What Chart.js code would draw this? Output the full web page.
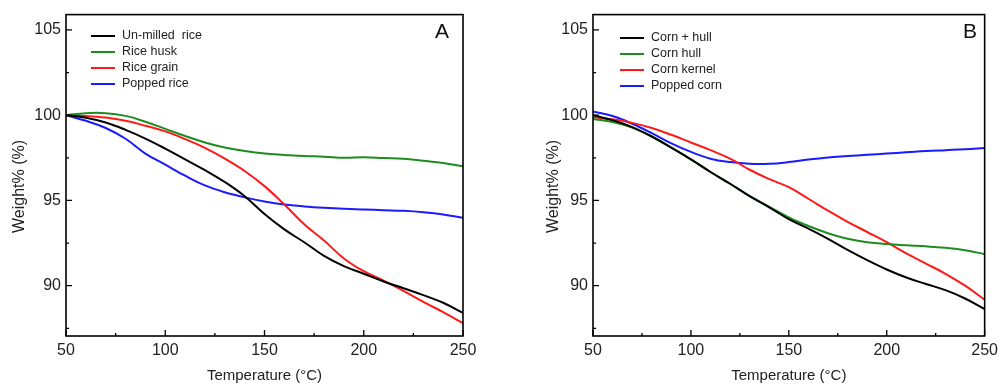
<!DOCTYPE html>
<html>
<head>
    <meta charset="UTF-8">
    <title>TGA curves</title>
    <style>
        body {
            margin: 0;
            padding: 0;
            background: #fff;
            width: 1003px;
            height: 385px;
            position: relative;
            overflow: hidden;
        }
        .panel {
            position: absolute;
            top: 0;
            height: 385px;
        }
        #panelA { left: 0; width: 490px; }
        #panelB { left: 520px; width: 483px; }
    </style>
</head>
<body>
    <div class="panel" id="panelA"><canvas id="chartA"></canvas></div>
    <div class="panel" id="panelB"><canvas id="chartB"></canvas></div>

    <script src="https://cdn.jsdelivr.net/npm/chart.js"></script>
    <script>
        // temperatures (°C) the curves were read at
        const temps = [50, 60, 70, 80, 90, 100, 110, 120, 130, 140, 150, 160, 170, 180, 190, 200, 210, 220, 230, 240, 250];

        // panel A - rice
        const unmilledRice = [100, 99.85, 99.57, 99.14, 98.63, 98.04, 97.41, 96.78, 96.08, 95.25, 94.2, 93.3, 92.55, 91.75, 91.15, 90.7, 90.25, 89.85, 89.45, 89.0, 88.4];
        const riceHusk = [100, 100.12, 100.12, 99.96, 99.62, 99.2, 98.78, 98.4, 98.1, 97.9, 97.75, 97.67, 97.6, 97.57, 97.5, 97.53, 97.49, 97.45, 97.33, 97.2, 97.0];
        const riceGrain = [100, 99.96, 99.86, 99.67, 99.38, 99.05, 98.6, 98.08, 97.45, 96.73, 95.84, 94.76, 93.6, 92.65, 91.6, 90.85, 90.3, 89.7, 89.05, 88.45, 87.8];
        const poppedRice = [100, 99.67, 99.25, 98.62, 97.75, 97.1, 96.45, 95.88, 95.48, 95.18, 94.94, 94.76, 94.65, 94.57, 94.51, 94.47, 94.43, 94.39, 94.31, 94.18, 93.98];

        // panel B - corn
        const cornHull = [100, 99.7, 99.3, 98.75, 98.1, 97.41, 96.67, 95.98, 95.25, 94.6, 93.9, 93.35, 92.75, 92.1, 91.5, 90.95, 90.48, 90.1, 89.74, 89.25, 88.63];
        const cornHullOnly = [99.78, 99.6, 99.27, 98.75, 98.1, 97.41, 96.67, 95.98, 95.25, 94.63, 94.0, 93.5, 93.08, 92.75, 92.55, 92.44, 92.37, 92.31, 92.22, 92.08, 91.85];
        const cornKernel = [99.88, 99.76, 99.55, 99.25, 98.85, 98.4, 97.95, 97.45, 96.8, 96.25, 95.78, 95.1, 94.4, 93.75, 93.15, 92.55, 91.9, 91.3, 90.7, 90.0, 89.18];
        const poppedCorn = [100.22, 99.95, 99.5, 98.95, 98.35, 97.85, 97.45, 97.25, 97.15, 97.15, 97.25, 97.4, 97.52, 97.6, 97.68, 97.75, 97.82, 97.9, 97.95, 98.0, 98.08];

        const labelsA = ['Un-milled  rice', 'Rice husk', 'Rice grain', 'Popped rice'];
        const labelsB = ['Corn + hull', 'Corn hull', 'Corn kernel', 'Popped corn'];
        const colors = ['#000000', '#1e8c1e', '#ff1a1a', '#1a1aff'];

        const xMajor = [50, 100, 150, 200, 250];
        const xMinor = [75, 125, 175, 225];
        const yMajor = [90, 95, 100, 105];
        const yMinor = [87.5, 92.5, 97.5, 102.5];

        const FONT = "'Liberation Sans', Arial, sans-serif";

        function toPoints(arr) {
            return arr.map((v, i) => ({ x: temps[i], y: v }));
        }

        // frame, inward ticks, legend and panel letter
        const framePlugin = {
            id: 'frame',
            afterDatasetsDraw(chart, args, opts) {
                const ctx = chart.ctx;
                const a = chart.chartArea;
                const xs = chart.scales.x;
                const ys = chart.scales.y;
                ctx.save();
                ctx.strokeStyle = '#000';
                ctx.lineWidth = 1.6;
                ctx.strokeRect(a.left, a.top, a.right - a.left, a.bottom - a.top);

                ctx.lineWidth = 1.3;
                ctx.beginPath();
                xMajor.forEach(v => {
                    const p = xs.getPixelForValue(v);
                    ctx.moveTo(p, a.bottom); ctx.lineTo(p, a.bottom - 6);
                });
                xMinor.forEach(v => {
                    const p = xs.getPixelForValue(v);
                    ctx.moveTo(p, a.bottom); ctx.lineTo(p, a.bottom - 3);
                });
                yMajor.forEach(v => {
                    const p = ys.getPixelForValue(v);
                    ctx.moveTo(a.left, p); ctx.lineTo(a.left + 6, p);
                });
                yMinor.forEach(v => {
                    const p = ys.getPixelForValue(v);
                    ctx.moveTo(a.left, p); ctx.lineTo(a.left + 3, p);
                });
                ctx.stroke();

                // legend
                ctx.font = '12.5px ' + FONT;
                ctx.textBaseline = 'middle';
                ctx.textAlign = 'left';
                chart.data.datasets.forEach((ds, i) => {
                    const y = opts.legendY + i * 16;
                    ctx.strokeStyle = ds.borderColor;
                    ctx.lineWidth = 2;
                    ctx.beginPath();
                    ctx.moveTo(opts.legendX, y);
                    ctx.lineTo(opts.legendX + 24, y);
                    ctx.stroke();
                    ctx.fillStyle = '#222';
                    ctx.fillText(ds.label, opts.legendX + 31, y);
                });

                // panel letter
                ctx.font = '21px ' + FONT;
                ctx.fillStyle = '#111';
                ctx.textAlign = 'center';
                ctx.fillText(opts.letter, opts.letterX, 32);
                ctx.restore();
            }
        };

        function makeChart(id, series, names, leftW, rightPad, titlePad, legendX, legendY, letterX, letter) {
            const ctx = document.getElementById(id).getContext('2d');
            return new Chart(ctx, {
                type: 'line',
                data: {
                    datasets: series.map((s, i) => ({
                        label: names[i],
                        data: toPoints(s),
                        borderColor: colors[i],
                        borderWidth: 2,
                        pointRadius: 0,
                        fill: false,
                        tension: 0.4
                    }))
                },
                options: {
                    responsive: true,
                    maintainAspectRatio: false,
                    animation: false,
                    layout: { padding: { top: 14, right: rightPad, left: 0, bottom: 0 } },
                    plugins: {
                        legend: { display: false },
                        tooltip: { enabled: false },
                        frame: { legendX: legendX, legendY: legendY, letterX: letterX, letter: letter }
                    },
                    scales: {
                        x: {
                            type: 'linear',
                            min: 50,
                            max: 250,
                            afterBuildTicks: s => { s.ticks = xMajor.map(v => ({ value: v })); },
                            afterFit: s => { s.height = 49; },
                            grid: { display: false, drawTicks: false },
                            border: { display: false },
                            ticks: { color: '#222', font: { family: FONT, size: 16 }, padding: 5, maxRotation: 0 },
                            title: {
                                display: true,
                                text: 'Temperature (°C)',
                                color: '#222',
                                font: { family: FONT, size: 15 },
                                padding: { top: 3, bottom: 0 }
                            }
                        },
                        y: {
                            min: 87.05,
                            max: 105.9,
                            afterBuildTicks: s => { s.ticks = yMajor.map(v => ({ value: v })); },
                            afterFit: s => { s.width = leftW; },
                            grid: { display: false, drawTicks: false },
                            border: { display: false },
                            ticks: { color: '#222', font: { family: FONT, size: 16 }, padding: 5 },
                            title: {
                                display: true,
                                // trailing spaces nudge the label a little lower, as in the original
                                text: 'Weight% (%)     ',
                                color: '#222',
                                font: { family: FONT, size: 16 },
                                padding: { top: titlePad, bottom: 4 }
                            }
                        }
                    }
                },
                plugins: [framePlugin]
            });
        }

        makeChart('chartA', [unmilledRice, riceHusk, riceGrain, poppedRice], labelsA, 66, 27, 10, 91, 36, 442, 'A');
        makeChart('chartB', [cornHull, cornHullOnly, cornKernel, poppedCorn], labelsB, 73, 13, 24, 100, 38, 450, 'B');
    </script>
</body>
</html>
